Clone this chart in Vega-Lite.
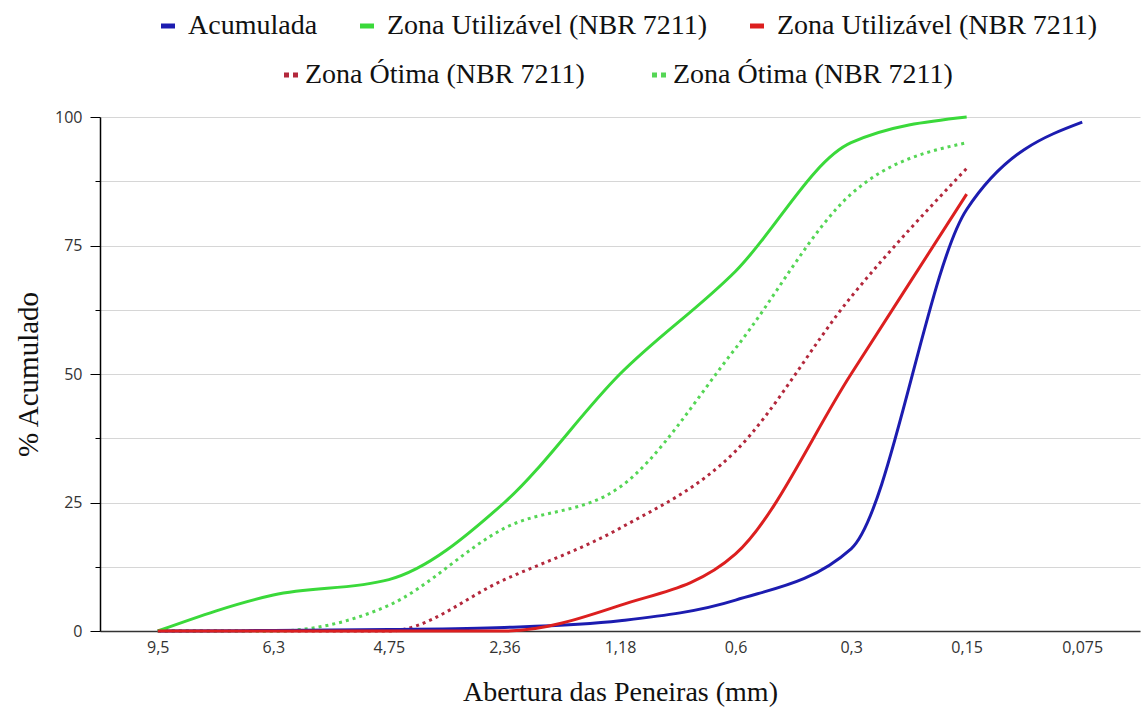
{
  "$schema": "https://vega.github.io/schema/vega-lite/v6.json",
  "autosize": {"type": "none"},
  "padding": {"left": 100, "top": 117, "right": 1, "bottom": 84},
  "width": 1040,
  "height": 514,
  "background": "white",
  "config": {
    "view": {"stroke": null},
    "font": "Liberation Serif"
  },
  "data": {"values": [
    {"serie": "Acumulada", "tipo": "continua", "abertura": "9,5", "valor": 0},
    {"serie": "Acumulada", "tipo": "continua", "abertura": "6,3", "valor": 0.1},
    {"serie": "Acumulada", "tipo": "continua", "abertura": "4,75", "valor": 0.3},
    {"serie": "Acumulada", "tipo": "continua", "abertura": "2,36", "valor": 0.7},
    {"serie": "Acumulada", "tipo": "continua", "abertura": "1,18", "valor": 2},
    {"serie": "Acumulada", "tipo": "continua", "abertura": "0,6", "valor": 6},
    {"serie": "Acumulada", "tipo": "continua", "abertura": "0,3", "valor": 16},
    {"serie": "Acumulada", "tipo": "continua", "abertura": "0,15", "valor": 82},
    {"serie": "Acumulada", "tipo": "continua", "abertura": "0,075", "valor": 99},
    {"serie": "Zona Utilizável (NBR 7211) - limite superior", "tipo": "continua", "abertura": "9,5", "valor": 0},
    {"serie": "Zona Utilizável (NBR 7211) - limite superior", "tipo": "continua", "abertura": "6,3", "valor": 7},
    {"serie": "Zona Utilizável (NBR 7211) - limite superior", "tipo": "continua", "abertura": "4,75", "valor": 10},
    {"serie": "Zona Utilizável (NBR 7211) - limite superior", "tipo": "continua", "abertura": "2,36", "valor": 25},
    {"serie": "Zona Utilizável (NBR 7211) - limite superior", "tipo": "continua", "abertura": "1,18", "valor": 50},
    {"serie": "Zona Utilizável (NBR 7211) - limite superior", "tipo": "continua", "abertura": "0,6", "valor": 70},
    {"serie": "Zona Utilizável (NBR 7211) - limite superior", "tipo": "continua", "abertura": "0,3", "valor": 95},
    {"serie": "Zona Utilizável (NBR 7211) - limite superior", "tipo": "continua", "abertura": "0,15", "valor": 100},
    {"serie": "Zona Utilizável (NBR 7211) - limite inferior", "tipo": "continua", "abertura": "9,5", "valor": 0},
    {"serie": "Zona Utilizável (NBR 7211) - limite inferior", "tipo": "continua", "abertura": "6,3", "valor": 0},
    {"serie": "Zona Utilizável (NBR 7211) - limite inferior", "tipo": "continua", "abertura": "4,75", "valor": 0},
    {"serie": "Zona Utilizável (NBR 7211) - limite inferior", "tipo": "continua", "abertura": "2,36", "valor": 0},
    {"serie": "Zona Utilizável (NBR 7211) - limite inferior", "tipo": "continua", "abertura": "1,18", "valor": 5},
    {"serie": "Zona Utilizável (NBR 7211) - limite inferior", "tipo": "continua", "abertura": "0,6", "valor": 15},
    {"serie": "Zona Utilizável (NBR 7211) - limite inferior", "tipo": "continua", "abertura": "0,3", "valor": 50},
    {"serie": "Zona Utilizável (NBR 7211) - limite inferior", "tipo": "continua", "abertura": "0,15", "valor": 85},
    {"serie": "Zona Ótima (NBR 7211) - limite inferior", "tipo": "pontilhada", "abertura": "9,5", "valor": 0},
    {"serie": "Zona Ótima (NBR 7211) - limite inferior", "tipo": "pontilhada", "abertura": "6,3", "valor": 0},
    {"serie": "Zona Ótima (NBR 7211) - limite inferior", "tipo": "pontilhada", "abertura": "4,75", "valor": 0},
    {"serie": "Zona Ótima (NBR 7211) - limite inferior", "tipo": "pontilhada", "abertura": "2,36", "valor": 10},
    {"serie": "Zona Ótima (NBR 7211) - limite inferior", "tipo": "pontilhada", "abertura": "1,18", "valor": 20},
    {"serie": "Zona Ótima (NBR 7211) - limite inferior", "tipo": "pontilhada", "abertura": "0,6", "valor": 35},
    {"serie": "Zona Ótima (NBR 7211) - limite inferior", "tipo": "pontilhada", "abertura": "0,3", "valor": 65},
    {"serie": "Zona Ótima (NBR 7211) - limite inferior", "tipo": "pontilhada", "abertura": "0,15", "valor": 90},
    {"serie": "Zona Ótima (NBR 7211) - limite superior", "tipo": "pontilhada", "abertura": "9,5", "valor": 0},
    {"serie": "Zona Ótima (NBR 7211) - limite superior", "tipo": "pontilhada", "abertura": "6,3", "valor": 0},
    {"serie": "Zona Ótima (NBR 7211) - limite superior", "tipo": "pontilhada", "abertura": "4,75", "valor": 5},
    {"serie": "Zona Ótima (NBR 7211) - limite superior", "tipo": "pontilhada", "abertura": "2,36", "valor": 20},
    {"serie": "Zona Ótima (NBR 7211) - limite superior", "tipo": "pontilhada", "abertura": "1,18", "valor": 28},
    {"serie": "Zona Ótima (NBR 7211) - limite superior", "tipo": "pontilhada", "abertura": "0,6", "valor": 55},
    {"serie": "Zona Ótima (NBR 7211) - limite superior", "tipo": "pontilhada", "abertura": "0,3", "valor": 85},
    {"serie": "Zona Ótima (NBR 7211) - limite superior", "tipo": "pontilhada", "abertura": "0,15", "valor": 95}
  ]},
  "encoding": {
    "x": {
      "field": "abertura", "type": "ordinal",
      "scale": {"type": "point", "padding": 0.5, "domain": ["9,5", "6,3", "4,75", "2,36", "1,18", "0,6", "0,3", "0,15", "0,075"]},
      "axis": {
        "title": "Abertura das Peneiras (mm)", "titleFont": "Liberation Serif", "titleFontSize": 28, "titleFontWeight": "normal", "titleColor": "#111", "titlePadding": 23,
        "labelAngle": 0, "labelFont": "Open Sans", "labelFontSize": 16, "labelColor": "#333", "labelPadding": 8,
        "ticks": false, "grid": false, "domainColor": "#333", "domainWidth": 1.5
      }
    },
    "y": {
      "field": "valor", "type": "quantitative",
      "scale": {"domain": [0, 100], "nice": false},
      "axis": {
        "title": "% Acumulado", "titleFont": "Liberation Serif", "titleFontSize": 29, "titleFontWeight": "normal", "titleColor": "#111", "titlePadding": 11,
        "values": [0, 12.5, 25, 37.5, 50, 62.5, 75, 87.5, 100],
        "labelExpr": "datum.value % 25 === 0 ? datum.label : ''",
        "labelFont": "Open Sans", "labelFontSize": 16, "labelColor": "#333", "labelPadding": 8,
        "tickColor": "#000", "tickSize": {"condition": {"test": "datum.value % 25 === 0", "value": 10}, "value": 5},
        "domainColor": "#000", "domainWidth": 1.5,
        "grid": true, "gridColor": "#d6d6d6", "gridWidth": 1.2
      }
    }
  },
  "layer": [
    {
      "transform": [{"filter": "datum.tipo === 'pontilhada'"}],
      "mark": {"type": "line", "interpolate": "monotone", "strokeWidth": 3, "strokeDash": [3, 4], "strokeCap": "butt"},
      "encoding": {
        "color": {
          "field": "serie", "type": "nominal",
          "scale": {"domain": ["Zona Ótima (NBR 7211) - limite inferior", "Zona Ótima (NBR 7211) - limite superior"], "range": ["#b3283c", "#55d655"]},
          "legend": {
            "title": null, "orient": "none", "direction": "horizontal", "legendX": 177, "legendY": -56,
            "labelExpr": "split(datum.label, ' - ')[0]", "labelFont": "Liberation Serif", "labelFontSize": 28, "labelColor": "#111", "labelLimit": 600, "labelOffset": 0,
            "symbolType": "stroke", "symbolSize": 196, "symbolStrokeWidth": 5, "symbolDash": [5, 4], "columnPadding": 57
          }
        }
      }
    },
    {
      "transform": [{"filter": "datum.tipo === 'continua'"}],
      "mark": {"type": "line", "interpolate": "monotone", "strokeWidth": 3},
      "encoding": {
        "color": {
          "field": "serie", "type": "nominal",
          "scale": {"domain": ["Acumulada", "Zona Utilizável (NBR 7211) - limite superior", "Zona Utilizável (NBR 7211) - limite inferior"], "range": ["#1c1cb0", "#3ad93a", "#dc1f1f"]},
          "legend": {
            "title": null, "orient": "none", "direction": "horizontal", "legendX": 54, "legendY": -105,
            "labelExpr": "split(datum.label, ' - ')[0]", "labelFont": "Liberation Serif", "labelFontSize": 28, "labelColor": "#111", "labelLimit": 600, "labelOffset": 6,
            "symbolType": "stroke", "symbolSize": 196, "symbolStrokeWidth": 5, "columnPadding": 32
          }
        }
      }
    }
  ],
  "resolve": {"scale": {"color": "independent"}, "legend": {"color": "independent"}}
}
